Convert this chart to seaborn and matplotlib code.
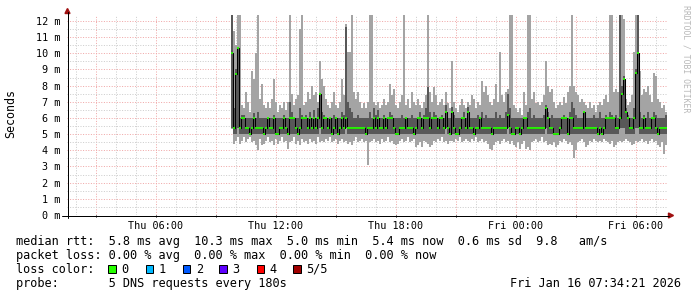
import numpy as np
import pandas as pd
import matplotlib
matplotlib.use("Agg")
import matplotlib.pyplot as plt
import matplotlib.dates as mdates
from matplotlib.ticker import MultipleLocator, FuncFormatter
from matplotlib.lines import Line2D
from matplotlib.patches import Polygon, Rectangle
import seaborn as sns

# ---------------- data (values in tenths of a millisecond, one per 6 minutes) ----------------
START = "2026-01-15 09:46"
STEP = "6min"
VIEW_START = "2026-01-15 01:34:21"
VIEW_END = "2026-01-16 07:34:21"

PING_MIN = [53,44,46,48,44,46,48,45,47,48, 45,46,43,40,47,43,44,46,48,45, 46,43,47,44,46,48,45,46,41,45, 46,48,44,46,43,47,
            45,46,44,47,45,46,44,48,45,46, 45,47,46,48,45,46,47,44,46,47, 45,46,44,45,43,46,48,45,46,47, 45,46,31,45,46,47,45,
            46,44,47,45,46,48,45,46,44,43, 44,46,47,45,46,48,45,46,47,42, 43,45,42,46,45,44,42,43,46,45, 47,46,48,45,46,44,46,
            46,45,47,46,48,45,46,47,46,45, 47,46,48,45,46,47,45,46,44,41, 40,43,45,46,44,46,47,45,46,44, 46,43,42,45,41,44,46,
            41,42,40,45,46,47,45,46,48,45, 46,43,44,43,45,42,43,46,45,47, 46,44,45,43,35,40,45,46,47,45, 42,43,46,45,47,46,45,
            46,45,47,46,45,44,46,42,43,45, 46,45,46,47,46,45,43,44,46,45, 46,47,45,46,44,46,47,45,46,43, 42,45,38,43]
PING_Q1 = [54,50,50,54,50,50,50,50,50,50, 50,50,50,50,50,50,50,50,50,50, 50,50,50,50,50,50,50,50,50,50, 50,50,50,50,50,50,
           50,50,50,50,50,50,50,50,54,50, 50,50,50,50,50,50,50,50,50,50, 50,54,50,50,50,50,50,50,50,50, 50,50,50,50,50,50,50,
           50,50,50,50,50,50,50,50,50,50, 50,50,50,50,50,50,50,50,50,50, 50,50,50,50,50,50,50,50,50,50, 50,50,50,50,54,50,50,
           50,50,50,50,50,50,50,50,50,50, 50,50,50,50,50,50,50,50,50,50, 50,50,50,50,50,50,50,50,54,50, 50,50,50,50,50,50,50,
           50,50,50,50,50,50,50,50,50,50, 54,50,50,50,50,50,50,50,50,50, 50,50,50,50,50,50,50,50,50,50, 50,50,50,50,50,50,50,
           50,50,50,50,50,50,50,50,50,50, 54,54,54,50,50,50,50,50,54,54, 50,50,50,50,50,50,50,50,50,50, 50,50,50,50]
PING_MEDIAN = [100,54,87,103,54,60,60,54,54,50, 54,60,54,54,54,54,50,54,60,54, 54,60,50,50,54,54,60,54,50,60, 60,60,54,50,54,60,
               60,60,54,60,54,60,54,60,75,54, 60,60,54,60,50,54,60,50,54,60, 54,60,54,54,54,54,54,54,54,54, 54,50,54,54,54,60,54,
               60,54,54,60,54,60,60,60,54,50, 50,54,54,54,60,54,54,54,50,54, 60,60,54,60,60,60,54,60,60,60, 54,60,60,54,64,54,50,
               64,54,50,50,54,60,60,54,64,54, 54,50,54,54,60,54,54,54,54,54, 50,54,54,54,54,54,54,54,62,54, 50,50,54,54,50,54,60,
               60,54,54,54,54,54,54,54,54,54, 66,60,54,54,50,50,50,54,60,60, 60,50,60,60,54,54,54,54,54,64, 54,54,54,54,54,54,50,
               54,50,54,60,60,60,60,60,54,54, 60,75,84,64,60,54,54,60,88,100, 54,54,60,54,54,54,60,60,54,50, 54,54,54,54]
PING_Q3 = [124,66,90,103,60,62,62,60,60,60, 60,63,60,64,60,60,60,60,60,60, 60,62,60,60,60,60,62,60,60,70, 64,60,60,60,66,62,
           60,62,60,64,60,65,60,66,75,64, 62,60,60,60,60,62,60,60,60,64, 62,116,70,66,64,60,60,62,60,60, 60,60,60,64,60,66,62,
           65,60,60,62,60,60,64,62,60,60, 60,60,62,60,60,60,60,62,60,60, 60,64,60,62,66,79,64,60,64,62, 60,60,62,60,68,60,60,
           67,62,60,60,60,60,64,60,67,60, 60,60,60,62,60,64,60,62,60,60, 60,60,64,60,62,60,60,64,75,66, 60,60,60,60,60,60,60,
           60,64,66,60,62,60,60,60,60,62, 68,64,60,62,60,60,60,60,60,62, 60,60,64,70,66,62,60,60,60,64, 60,60,60,60,62,60,60,
           64,60,60,62,60,64,62,60,62,60, 124,80,86,66,62,60,60,66,90,124, 64,60,62,60,64,60,60,64,62,60, 60,60,60,62]
PING_MAX = [124,114,105,124,124,68,66,76,70,64, 89,84,100,124,72,81,68,66,70,66, 72,84,70,64,68,66,70,65,70,124, 75,68,72,74,115,124,
            68,70,76,72,80,74,76,70,95,84, 80,72,68,66,70,76,68,66,70,84, 74,118,101,101,124,76,72,76,70,66, 69,66,70,124,124,70,68,
            70,66,68,72,68,70,81,74,78,68, 66,70,74,124,68,72,66,76,70,68, 72,68,66,70,74,124,76,70,79,74, 68,70,72,68,76,69,66,
            95,70,66,64,68,72,68,66,70,68, 74,72,66,70,68,83,76,80,74,70, 68,72,81,70,101,74,70,76,78,124, 124,68,66,64,66,62,76,
            68,124,124,72,76,69,70,68,70,74, 95,80,76,78,70,66,68,70,68,73, 69,76,80,124,80,76,74,70,72,70, 68,66,70,66,68,64,68,
            70,68,72,74,70,124,124,76,78,76, 124,124,121,72,68,70,74,101,124,124, 89,74,78,76,80,74,70,88,86,72, 70,66,68,64]

LOSS_LABELS = ["0", "1", "2", "3", "4", "5/5"]
LOSS_COLORS = ["#26ff00", "#00b8ff", "#0059ff", "#5e00ff", "#ff0000", "#a00000"]

LINE_RTT = "median rtt:  5.8 ms avg  10.3 ms max  5.0 ms min  5.4 ms now  0.6 ms sd  9.8   am/s"
LINE_LOSS = "packet loss: 0.00 % avg  0.00 % max  0.00 % min  0.00 % now"
LINE_COLOR = "loss color:"
LINE_PROBE = "probe:       5 DNS requests every 180s"
STAMP = "Fri Jan 16 07:34:21 2026"
Y_LABEL = "Seconds"
WATERMARK = "RRDTOOL / TOBI OETIKER"

# ---------------- figure ----------------
sns.set_theme(style="white")
plt.rcParams["font.family"] = ["DejaVu Sans Mono", "DejaVu Sans"]

W, H = 697, 297
fig = plt.figure(figsize=(W / 100, H / 100), dpi=100)
fig.patch.set_facecolor("white")
ax = fig.add_axes([67 / W, 82 / H, 600 / W, 200 / H])
ax.set_facecolor("white")

n = len(PING_MEDIAN)
edges = pd.date_range(START, periods=n + 1, freq=STEP)
def ext(a):
    a = np.asarray(a, dtype=float) / 10.0
    return np.append(a, a[-1])

lo, q1, med, q3, hi = (ext(a) for a in (PING_MIN, PING_Q1, PING_MEDIAN, PING_Q3, PING_MAX))

ax.fill_between(edges, lo, hi, step="post", color="#a4a4a4", lw=0, zorder=2)
ax.fill_between(edges, q1, q3, step="post", color="#585858", lw=0, zorder=3)

df = pd.DataFrame({"t": edges, "median": med})
sns.lineplot(data=df, x="t", y="median", drawstyle="steps-post", color="#000000",
             lw=0.75, estimator=None, ax=ax, zorder=4)
ax.hlines(med[:-1], edges[:-1], edges[1:], colors=LOSS_COLORS[0], lw=1.3, zorder=5)

ax.set_xlim(pd.Timestamp(VIEW_START), pd.Timestamp(VIEW_END))
ax.set_ylim(0, 12.37)
ax.set_xlabel("")
ax.set_ylabel("")

ax.xaxis.set_major_locator(mdates.HourLocator(byhour=range(0, 24, 3)))
ax.xaxis.set_minor_locator(mdates.HourLocator())
ax.xaxis.set_major_formatter(FuncFormatter(
    lambda v, p: mdates.num2date(v).strftime("%a %H:%M") if mdates.num2date(v).hour % 6 == 0 else ""))
ax.yaxis.set_major_locator(MultipleLocator(1))
ax.yaxis.set_minor_locator(MultipleLocator(0.5))
ax.yaxis.set_major_formatter(FuncFormatter(lambda v, p: f"{int(round(v))} m"))

ax.set_axisbelow(True)
ax.grid(which="minor", color="#cdcdcd", lw=0.72, ls=(0, (1, 1.6)), zorder=0)
ax.grid(which="major", color="#f0a8a8", lw=0.72, ls=(0, (1, 1.6)), zorder=1)

ax.tick_params(axis="x", which="major", length=1.6, width=0.72, color="black", pad=3,
               labelsize=7.3, labelcolor="black", direction="out", bottom=True)
ax.tick_params(axis="x", which="minor", length=0)
ax.tick_params(axis="y", which="both", length=0, pad=4.5, labelsize=7.3, labelcolor="black")
for s in ax.spines.values():
    s.set_visible(False)

def fx(x):
    return x / W
def fy(y):
    return 1 - y / H

axis_col = "#000000"
arrow_col = "#a01010"
fig.add_artist(Line2D([fx(62), fx(669)], [fy(215.5), fy(215.5)], color=axis_col, lw=0.72))
fig.add_artist(Line2D([fx(67.5), fx(67.5)], [fy(218), fy(12)], color=axis_col, lw=0.72))
fig.add_artist(Polygon([[fx(673.5), fy(215.5)], [fx(668.5), fy(213)], [fx(668.5), fy(218)]],
                       closed=True, color=arrow_col, transform=fig.transFigure))
fig.add_artist(Polygon([[fx(67.5), fy(8.5)], [fx(65), fy(13.5)], [fx(70), fy(13.5)]],
                       closed=True, color=arrow_col, transform=fig.transFigure))

fs = 8.56
fig.text(fx(10.5), fy(113.5), Y_LABEL, rotation=90, ha="center", va="center", fontsize=8.4, color="black")
fig.text(fx(686), fy(59), WATERMARK, rotation=-90, ha="center", va="center", fontsize=5.9, color="#b8b8b8")

fig.text(fx(15.5), fy(245), LINE_RTT, fontsize=fs, va="baseline", ha="left", color="black")
fig.text(fx(15.5), fy(259), LINE_LOSS, fontsize=fs, va="baseline", ha="left", color="black")
fig.text(fx(15.5), fy(273), LINE_COLOR, fontsize=fs, va="baseline", ha="left", color="black")
fig.text(fx(15.5), fy(287.3), LINE_PROBE, fontsize=fs, va="baseline", ha="left", color="black")
fig.text(fx(681), fy(287.3), STAMP, fontsize=fs, va="baseline", ha="right", color="black")

box_x = [108.3, 145.7, 182.7, 219.3, 256.7, 293.3]
for bx, lab, col in zip(box_x, LOSS_LABELS, LOSS_COLORS):
    fig.add_artist(Rectangle((fx(bx), fy(272.5)), 7.7 / W, 8 / H, transform=fig.transFigure,
                             facecolor=col, edgecolor="black", lw=0.72))
    fig.text(fx(bx + 13), fy(273), lab, fontsize=fs, va="baseline", ha="left", color="black")

fig.savefig("out.png", dpi=100, facecolor="white")
